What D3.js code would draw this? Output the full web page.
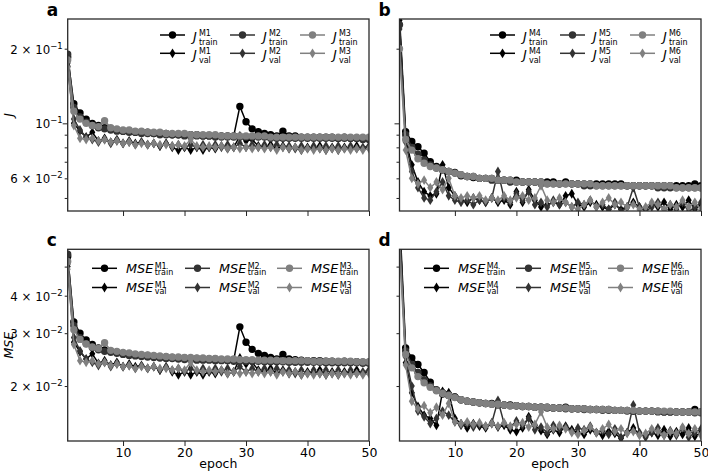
<!DOCTYPE html>
<html>
<head>
<meta charset="utf-8">
<script src="https://cdn.jsdelivr.net/npm/d3@7"></script>
<style>
  body { margin: 0; background: #fff; }
  svg { font-family: "DejaVu Sans", sans-serif; }
  .axis path { display: none; }
  .axis line { stroke: #222; stroke-width: 1; }
</style>
</head>
<body>
<svg id="chart" width="708" height="471"></svg>
<script>
// ---- data ----
var epochs = [1,2,3,4,5,6,7,8,9,10,11,12,13,14,15,16,17,18,19,20,21,22,23,24,25,
              26,27,28,29,30,31,32,33,34,35,36,37,38,39,40,41,42,43,44,45,46,47,48,49,50];
var xTicks = [10, 20, 30, 40, 50];

// panel a: J, models M1-M3
var jTrainM1 = [0.185,0.120,0.110,0.104,0.100,0.098,0.096,0.095,0.094,0.093,
  0.093,0.092,0.092,0.092,0.091,0.091,0.091,0.090,0.090,0.090,
  0.090,0.090,0.089,0.089,0.089,0.089,0.089,0.089,0.117,0.1015,
  0.095,0.0925,0.091,0.090,0.089,0.093,0.089,0.089,0.088,0.088,
  0.088,0.088,0.088,0.088,0.087,0.088,0.087,0.087,0.087,0.087];
var jValM1 = [0.170,0.100,0.093,0.088,0.092,0.085,0.087,0.084,0.086,0.083,
  0.085,0.083,0.084,0.082,0.083,0.081,0.083,0.080,0.078,0.080,
  0.078,0.080,0.078,0.080,0.079,0.081,0.079,0.080,0.089,0.085,
  0.086,0.081,0.080,0.082,0.079,0.081,0.079,0.080,0.078,0.080,
  0.079,0.081,0.078,0.080,0.078,0.080,0.079,0.081,0.079,0.080];
var jTrainM2 = [0.190,0.116,0.106,0.101,0.098,0.096,0.095,0.094,0.093,0.093,
  0.092,0.092,0.091,0.091,0.091,0.090,0.090,0.090,0.090,0.089,
  0.089,0.089,0.089,0.089,0.088,0.088,0.088,0.088,0.088,0.088,
  0.088,0.088,0.088,0.087,0.087,0.087,0.087,0.087,0.087,0.087,
  0.087,0.087,0.087,0.087,0.087,0.087,0.087,0.087,0.086,0.086];
var jValM2 = [0.175,0.104,0.094,0.088,0.086,0.084,0.086,0.083,0.085,0.083,
  0.084,0.082,0.084,0.082,0.083,0.081,0.083,0.081,0.082,0.080,
  0.082,0.080,0.082,0.080,0.082,0.080,0.082,0.080,0.083,0.080,
  0.082,0.080,0.082,0.080,0.082,0.080,0.081,0.079,0.081,0.079,
  0.081,0.079,0.081,0.079,0.081,0.079,0.081,0.079,0.080,0.081];
var jTrainM3 = [0.180,0.112,0.104,0.100,0.098,0.097,0.1025,0.096,0.095,0.094,
  0.094,0.093,0.093,0.092,0.092,0.092,0.091,0.091,0.091,0.091,
  0.090,0.090,0.090,0.090,0.090,0.089,0.089,0.089,0.089,0.089,
  0.089,0.089,0.089,0.088,0.088,0.088,0.088,0.088,0.088,0.088,
  0.088,0.088,0.088,0.088,0.088,0.088,0.088,0.088,0.088,0.088];
var jValM3 = [0.168,0.098,0.087,0.086,0.087,0.085,0.086,0.084,0.085,0.083,
  0.084,0.082,0.083,0.082,0.083,0.082,0.082,0.081,0.082,0.081,
  0.086,0.081,0.080,0.081,0.080,0.081,0.079,0.080,0.079,0.080,
  0.079,0.080,0.079,0.080,0.078,0.080,0.079,0.080,0.078,0.079,
  0.078,0.079,0.078,0.079,0.078,0.079,0.078,0.079,0.078,0.079];

// panel b: J, models M4-M6
var jTrainM4 = [0.270,0.0925,0.0845,0.0805,0.0757,0.070,0.067,0.065,0.064,0.0633,
  0.0615,0.061,0.0605,0.060,0.060,0.060,0.059,0.059,0.059,0.059,
  0.058,0.058,0.058,0.058,0.058,0.058,0.057,0.058,0.057,0.057,
  0.057,0.057,0.057,0.057,0.057,0.057,0.057,0.056,0.056,0.056,
  0.056,0.056,0.056,0.056,0.056,0.056,0.056,0.056,0.057,0.056];
var jValM4 = [0.260,0.086,0.068,0.058,0.053,0.051,0.052,0.068,0.055,0.051,
  0.049,0.048,0.050,0.049,0.048,0.050,0.048,0.049,0.047,0.053,
  0.048,0.054,0.049,0.046,0.047,0.048,0.047,0.051,0.052,0.047,
  0.046,0.048,0.047,0.046,0.045,0.047,0.045,0.046,0.048,0.046,
  0.045,0.047,0.046,0.048,0.045,0.047,0.046,0.049,0.045,0.047];
var jTrainM5 = [0.250,0.090,0.080,0.075,0.071,0.068,0.066,0.065,0.064,0.063,
  0.062,0.061,0.061,0.060,0.060,0.059,0.059,0.059,0.058,0.058,
  0.058,0.058,0.058,0.057,0.057,0.057,0.057,0.057,0.057,0.057,
  0.056,0.056,0.056,0.056,0.056,0.056,0.056,0.056,0.056,0.056,
  0.056,0.056,0.055,0.055,0.055,0.055,0.055,0.055,0.055,0.055];
var jValM5 = [0.240,0.084,0.064,0.055,0.050,0.049,0.053,0.058,0.051,0.049,
  0.048,0.049,0.047,0.049,0.048,0.050,0.064,0.050,0.048,0.052,
  0.049,0.053,0.047,0.048,0.046,0.049,0.047,0.048,0.046,0.048,
  0.047,0.049,0.046,0.047,0.045,0.048,0.044,0.046,0.055,0.046,
  0.044,0.046,0.048,0.045,0.047,0.045,0.048,0.044,0.046,0.048];
var jTrainM6 = [0.200,0.086,0.078,0.072,0.069,0.067,0.066,0.065,0.064,0.063,
  0.062,0.061,0.061,0.060,0.060,0.060,0.059,0.059,0.059,0.058,
  0.058,0.058,0.058,0.058,0.057,0.057,0.057,0.057,0.057,0.057,
  0.057,0.057,0.056,0.056,0.056,0.056,0.056,0.056,0.056,0.056,
  0.056,0.056,0.056,0.056,0.056,0.055,0.055,0.055,0.055,0.055];
var jValM6 = [0.200,0.078,0.060,0.057,0.059,0.055,0.058,0.054,0.060,0.051,
  0.050,0.051,0.050,0.051,0.049,0.050,0.049,0.051,0.049,0.050,
  0.051,0.049,0.050,0.056,0.049,0.048,0.050,0.048,0.046,0.045,
  0.047,0.049,0.046,0.048,0.050,0.047,0.048,0.046,0.047,0.045,
  0.046,0.048,0.047,0.045,0.047,0.046,0.049,0.046,0.048,0.045];

// panel c: MSE, models M1-M3
var mseTrainM1 = [0.054,0.0327,0.0300,0.0285,0.0275,0.0268,0.0264,0.0261,0.0259,0.0257,
  0.0256,0.0254,0.0253,0.0253,0.0251,0.0250,0.0250,0.0249,0.0248,0.0248,
  0.0247,0.0247,0.0246,0.0246,0.0246,0.0245,0.0245,0.0244,0.0315,0.0280,
  0.0265,0.0257,0.0253,0.0249,0.0246,0.0255,0.0246,0.0245,0.0244,0.0243,
  0.0243,0.0243,0.0242,0.0242,0.0241,0.0242,0.0241,0.0241,0.0240,0.0240];
var mseValM1 = [0.050,0.0280,0.0260,0.0246,0.0256,0.0238,0.0243,0.0235,0.0240,0.0232,
  0.0237,0.0232,0.0234,0.0229,0.0232,0.0226,0.0231,0.0223,0.0218,0.0223,
  0.0218,0.0223,0.0218,0.0223,0.0220,0.0226,0.0220,0.0223,0.0248,0.0237,
  0.0240,0.0226,0.0223,0.0229,0.0220,0.0226,0.0220,0.0223,0.0218,0.0223,
  0.0220,0.0226,0.0218,0.0223,0.0218,0.0223,0.0220,0.0226,0.0220,0.0223];
var mseTrainM2 = [0.055,0.0318,0.0290,0.0277,0.0269,0.0264,0.0261,0.0259,0.0257,0.0255,
  0.0253,0.0252,0.0251,0.0250,0.0249,0.0248,0.0247,0.0247,0.0246,0.0245,
  0.0245,0.0244,0.0244,0.0244,0.0243,0.0243,0.0243,0.0242,0.0242,0.0242,
  0.0242,0.0242,0.0241,0.0241,0.0241,0.0241,0.0240,0.0240,0.0240,0.0240,
  0.0240,0.0240,0.0239,0.0239,0.0239,0.0239,0.0239,0.0239,0.0238,0.0238];
var mseValM2 = [0.051,0.0290,0.0262,0.0246,0.0240,0.0234,0.0240,0.0232,0.0237,0.0232,
  0.0234,0.0229,0.0234,0.0229,0.0232,0.0226,0.0232,0.0226,0.0229,0.0223,
  0.0229,0.0223,0.0229,0.0223,0.0229,0.0223,0.0229,0.0223,0.0232,0.0223,
  0.0229,0.0223,0.0229,0.0223,0.0229,0.0223,0.0226,0.0220,0.0226,0.0220,
  0.0226,0.0220,0.0226,0.0220,0.0226,0.0220,0.0226,0.0220,0.0223,0.0226];
var mseTrainM3 = [0.052,0.0308,0.0286,0.0276,0.0270,0.0267,0.0279,0.0263,0.0261,0.0259,
  0.0258,0.0256,0.0255,0.0254,0.0253,0.0252,0.0251,0.0250,0.0250,0.0249,
  0.0249,0.0248,0.0248,0.0247,0.0247,0.0246,0.0246,0.0246,0.0245,0.0245,
  0.0245,0.0244,0.0244,0.0244,0.0244,0.0243,0.0243,0.0243,0.0243,0.0243,
  0.0242,0.0242,0.0242,0.0242,0.0242,0.0242,0.0242,0.0241,0.0241,0.0241];
var mseValM3 = [0.049,0.0275,0.0243,0.0240,0.0243,0.0237,0.0240,0.0234,0.0237,0.0232,
  0.0234,0.0229,0.0232,0.0229,0.0232,0.0229,0.0229,0.0226,0.0229,0.0226,
  0.0240,0.0226,0.0223,0.0226,0.0223,0.0226,0.0220,0.0223,0.0220,0.0223,
  0.0220,0.0223,0.0220,0.0223,0.0218,0.0223,0.0220,0.0223,0.0218,0.0220,
  0.0218,0.0220,0.0218,0.0220,0.0218,0.0220,0.0218,0.0220,0.0218,0.0220];

// panel d: MSE, models M4-M6
var mseTrainM4 = [0.075,0.0268,0.0248,0.0236,0.0222,0.0206,0.0194,0.0188,0.0186,0.0184,
  0.0180,0.0178,0.0177,0.0176,0.0175,0.0175,0.0174,0.0173,0.0173,0.0172,
  0.0171,0.0171,0.0170,0.0170,0.0170,0.0169,0.0169,0.0170,0.0168,0.0168,
  0.0168,0.0167,0.0167,0.0167,0.0167,0.0166,0.0166,0.0166,0.0165,0.0165,
  0.0165,0.0165,0.0165,0.0164,0.0164,0.0164,0.0164,0.0164,0.0167,0.0164];
var mseValM4 = [0.072,0.0239,0.0190,0.0171,0.0160,0.0156,0.0148,0.0192,0.0190,0.0156,
  0.0150,0.0145,0.0150,0.0147,0.0145,0.0150,0.0146,0.0148,0.0143,0.0141,
  0.0145,0.0158,0.0148,0.0142,0.0138,0.0143,0.0140,0.0147,0.0143,0.0140,
  0.0138,0.0143,0.0140,0.0137,0.0141,0.0139,0.0134,0.0140,0.0145,0.0138,
  0.0136,0.0140,0.0137,0.0143,0.0136,0.0141,0.0138,0.0145,0.0136,0.0140];
var mseTrainM5 = [0.070,0.0262,0.0236,0.0222,0.0210,0.0200,0.0194,0.0190,0.0187,0.0184,
  0.0180,0.0178,0.0177,0.0176,0.0175,0.0174,0.0173,0.0173,0.0172,0.0172,
  0.0171,0.0171,0.0170,0.0170,0.0169,0.0169,0.0169,0.0168,0.0168,0.0168,
  0.0167,0.0167,0.0167,0.0166,0.0166,0.0166,0.0166,0.0165,0.0165,0.0165,
  0.0165,0.0165,0.0164,0.0164,0.0164,0.0164,0.0164,0.0164,0.0163,0.0163];
var mseValM5 = [0.068,0.0250,0.0200,0.0165,0.0158,0.0150,0.0156,0.0165,0.0160,0.0152,
  0.0148,0.0150,0.0146,0.0149,0.0147,0.0151,0.0179,0.0150,0.0146,0.0153,
  0.0148,0.0156,0.0143,0.0146,0.0140,0.0148,0.0144,0.0146,0.0141,0.0145,
  0.0143,0.0147,0.0140,0.0142,0.0138,0.0144,0.0135,0.0140,0.0173,0.0140,
  0.0135,0.0140,0.0145,0.0137,0.0142,0.0137,0.0145,0.0135,0.0140,0.0144];
var mseTrainM6 = [0.060,0.0255,0.0230,0.0215,0.0205,0.0198,0.0193,0.0189,0.0186,0.0183,
  0.0180,0.0178,0.0177,0.0176,0.0175,0.0174,0.0174,0.0173,0.0172,0.0172,
  0.0171,0.0171,0.0170,0.0170,0.0170,0.0169,0.0169,0.0169,0.0168,0.0168,
  0.0168,0.0167,0.0167,0.0167,0.0167,0.0166,0.0166,0.0166,0.0166,0.0165,
  0.0165,0.0165,0.0165,0.0165,0.0165,0.0164,0.0164,0.0164,0.0164,0.0164];
var mseValM6 = [0.058,0.0235,0.0178,0.0168,0.0172,0.0163,0.0170,0.0160,0.0175,0.0152,
  0.0150,0.0152,0.0149,0.0151,0.0147,0.0150,0.0147,0.0151,0.0147,0.0149,
  0.0151,0.0146,0.0149,0.0164,0.0146,0.0144,0.0148,0.0144,0.0140,0.0138,
  0.0142,0.0146,0.0140,0.0144,0.0149,0.0141,0.0144,0.0139,0.0141,0.0137,
  0.0139,0.0144,0.0141,0.0137,0.0141,0.0139,0.0146,0.0139,0.0144,0.0137];

// y axis ticks (log axes)
var jDomain = [0.0443, 0.2635];
var jMajor = [0.1];
var jMinor = [0.05, 0.06, 0.07, 0.08, 0.09, 0.2];
var jLabelVals = [0.06, 0.1, 0.2];
var jLabelText = [["6 \u00d7 10", "\u22122"], ["10", "\u22121"], ["2 \u00d7 10", "\u22121"]];

var mseDomain = [0.01312, 0.0571];
var mseMajor = [];
var mseMinor = [0.02, 0.03, 0.04, 0.05];
var mseLabelVals = [0.02, 0.03, 0.04];
var mseLabelText = [["2 \u00d7 10", "\u22122"], ["3 \u00d7 10", "\u22122"], ["4 \u00d7 10", "\u22122"]];

var colors = ["#000000", "#333333", "#808080"];

// ---- layout ----
var panels = [
  {id: "a", x0: 67.7, x1: 369, y0: 19, y1: 211, metric: "J", models: ["M1","M2","M3"],
   train: [jTrainM1, jTrainM2, jTrainM3], val: [jValM1, jValM2, jValM3],
   showX: false, showY: true, legX: [160, 230, 300], legY: [35, 53.3]},
  {id: "b", x0: 399.5, x1: 701, y0: 19, y1: 211, metric: "J", models: ["M4","M5","M6"],
   train: [jTrainM4, jTrainM5, jTrainM6], val: [jValM4, jValM5, jValM6],
   showX: false, showY: false, legX: [490, 560, 630], legY: [35, 53.3]},
  {id: "c", x0: 67.7, x1: 369, y0: 249.3, y1: 441, metric: "MSE", models: ["M1","M2","M3"],
   train: [mseTrainM1, mseTrainM2, mseTrainM3], val: [mseValM1, mseValM2, mseValM3],
   showX: true, showY: true, legX: [92, 185, 277], legY: [268.3, 287.5]},
  {id: "d", x0: 399.5, x1: 701, y0: 249.3, y1: 441, metric: "MSE", models: ["M4","M5","M6"],
   train: [mseTrainM4, mseTrainM5, mseTrainM6], val: [mseValM4, mseValM5, mseValM6],
   showX: true, showY: false, legX: [424, 516, 608], legY: [268.3, 287.5]}
];

var svg = d3.select("#chart");
var circlePath = d3.symbol(d3.symbolCircle, Math.PI * 3.7 * 3.7)();
var diamondPath = "M0,-4.9L3,0L0,4.9L-3,0Z";

function drawSeries(g, x, y, data, color, marker, clipId) {
    var line = d3.line()
        .x(function(d, i) { return x(epochs[i]); })
        .y(function(d) { return y(d); });

    g.append("path")
        .datum(data)
        .attr("clip-path", "url(#" + clipId + ")")
        .attr("d", line)
        .attr("fill", "none")
        .attr("stroke", color)
        .attr("stroke-width", 1.5);

    g.append("g")
        .attr("clip-path", "url(#" + clipId + ")")
        .selectAll("path")
        .data(data)
        .join("path")
        .attr("d", marker == "o" ? circlePath : diamondPath)
        .attr("transform", function(d, i) { return "translate(" + x(epochs[i]) + "," + y(d) + ")"; })
        .attr("fill", color);
}

// label like J^{M1}_{train}, main in italics, scripts stacked
function mathLabel(g, x, yRow, main, sup, sub) {
    var isJ = main == "J";
    var t = g.append("text")
        .attr("x", x)
        .attr("y", yRow + (isJ ? 5.5 : 4.3))
        .attr("font-size", 12.8)
        .attr("font-style", "italic")
        .text(main);
    var w = t.node().getComputedTextLength();
    var sx = x + w + (isJ ? 2.2 : 1.4);
    g.append("text").attr("x", sx).attr("y", yRow + (isJ ? 0.6 : 0.8))
        .attr("font-size", 8).text(sup);
    g.append("text").attr("x", sx).attr("y", yRow + (isJ ? 9.5 : 6.3))
        .attr("font-size", 8).text(sub);
}

panels.forEach(function(p) {
    var x = d3.scaleLinear().domain([1, 50]).range([p.x0, p.x1]);
    var isJ = p.metric == "J";
    var y = d3.scaleLog().domain(isJ ? jDomain : mseDomain).range([p.y1, p.y0]);
    var clipId = "clip-" + p.id;
    var g = svg.append("g");

    g.append("clipPath").attr("id", clipId)
        .append("rect")
        .attr("x", p.x0).attr("y", p.y0)
        .attr("width", p.x1 - p.x0).attr("height", p.y1 - p.y0);

    // x axis
    var xAxis = d3.axisBottom(x)
        .tickValues(xTicks)
        .tickSize(5)
        .tickSizeOuter(0)
        .tickPadding(2.5)
        .tickFormat(p.showX ? d3.format("d") : "");
    g.append("g")
        .attr("class", "axis")
        .attr("transform", "translate(0," + p.y1 + ")")
        .call(xAxis)
        .attr("font-family", "DejaVu Sans")
        .attr("font-size", 12.5)
        .selectAll("text").attr("fill", "#000");

    // y axis: minor + major ticks
    g.append("g")
        .attr("class", "axis")
        .attr("transform", "translate(" + p.x0 + ",0)")
        .call(d3.axisLeft(y).tickValues(isJ ? jMinor : mseMinor).tickSize(3).tickSizeOuter(0).tickFormat(""));
    g.append("g")
        .attr("class", "axis")
        .attr("transform", "translate(" + p.x0 + ",0)")
        .call(d3.axisLeft(y).tickValues(isJ ? jMajor : mseMajor).tickSize(5).tickSizeOuter(0).tickFormat(""));

    if (p.showY) {
        var vals = isJ ? jLabelVals : mseLabelVals;
        var txt = isJ ? jLabelText : mseLabelText;
        vals.forEach(function(v, i) {
            var t = g.append("text")
                .attr("x", p.x0 - 5)
                .attr("y", y(v) + 5)
                .attr("text-anchor", "end")
                .attr("font-size", 11.8)
                .attr("fill", "#000");
            t.append("tspan").text(txt[i][0]);
            t.append("tspan").attr("dy", -5).attr("font-size", 8.5).text(txt[i][1]);
        });
    }

    // series, plotted model by model (train then val)
    for (var m = 0; m < 3; m++) {
        drawSeries(g, x, y, p.train[m], colors[m], "o", clipId);
        drawSeries(g, x, y, p.val[m], colors[m], "d", clipId);
    }

    // frame
    g.append("rect")
        .attr("x", p.x0).attr("y", p.y0)
        .attr("width", p.x1 - p.x0).attr("height", p.y1 - p.y0)
        .attr("fill", "none")
        .attr("stroke", "#2a2a2a")
        .attr("stroke-width", 1.3);

    // legend (3 columns, train row over val row)
    var leg = g.append("g");
    for (var c = 0; c < 3; c++) {
        [["train", "o"], ["val", "d"]].forEach(function(r, ri) {
            var lx = p.legX[c], ly = p.legY[ri];
            leg.append("line")
                .attr("x1", lx).attr("x2", lx + 25)
                .attr("y1", ly).attr("y2", ly)
                .attr("stroke", colors[c]).attr("stroke-width", 1.5);
            leg.append("path")
                .attr("d", r[1] == "o" ? circlePath : diamondPath)
                .attr("transform", "translate(" + (lx + 12.5) + "," + ly + ")")
                .attr("fill", colors[c]);
            mathLabel(leg, lx + (isJ ? 33 : 34), ly, p.metric, p.models[c], r[0]);
        });
    }

    // panel letter
    svg.append("text")
        .attr("x", p.x0 - 21)
        .attr("y", p.y0 - 3.5)
        .attr("font-size", 17)
        .attr("font-weight", "bold")
        .text(p.id);

    if (p.showX) {
        svg.append("text")
            .attr("x", (p.x0 + p.x1) / 2)
            .attr("y", 467.5)
            .attr("text-anchor", "middle")
            .attr("font-size", 12.5)
            .attr("fill", "#000")
            .text("epoch");
    }
    if (p.showY) {
        svg.append("text")
            .attr("transform", "translate(12.5," + ((p.y0 + p.y1) / 2) + ") rotate(-90)")
            .attr("text-anchor", "middle")
            .attr("font-size", 12.5)
            .attr("font-style", "italic")
            .attr("fill", "#000")
            .text(p.metric);
    }
});
</script>
</body>
</html>
